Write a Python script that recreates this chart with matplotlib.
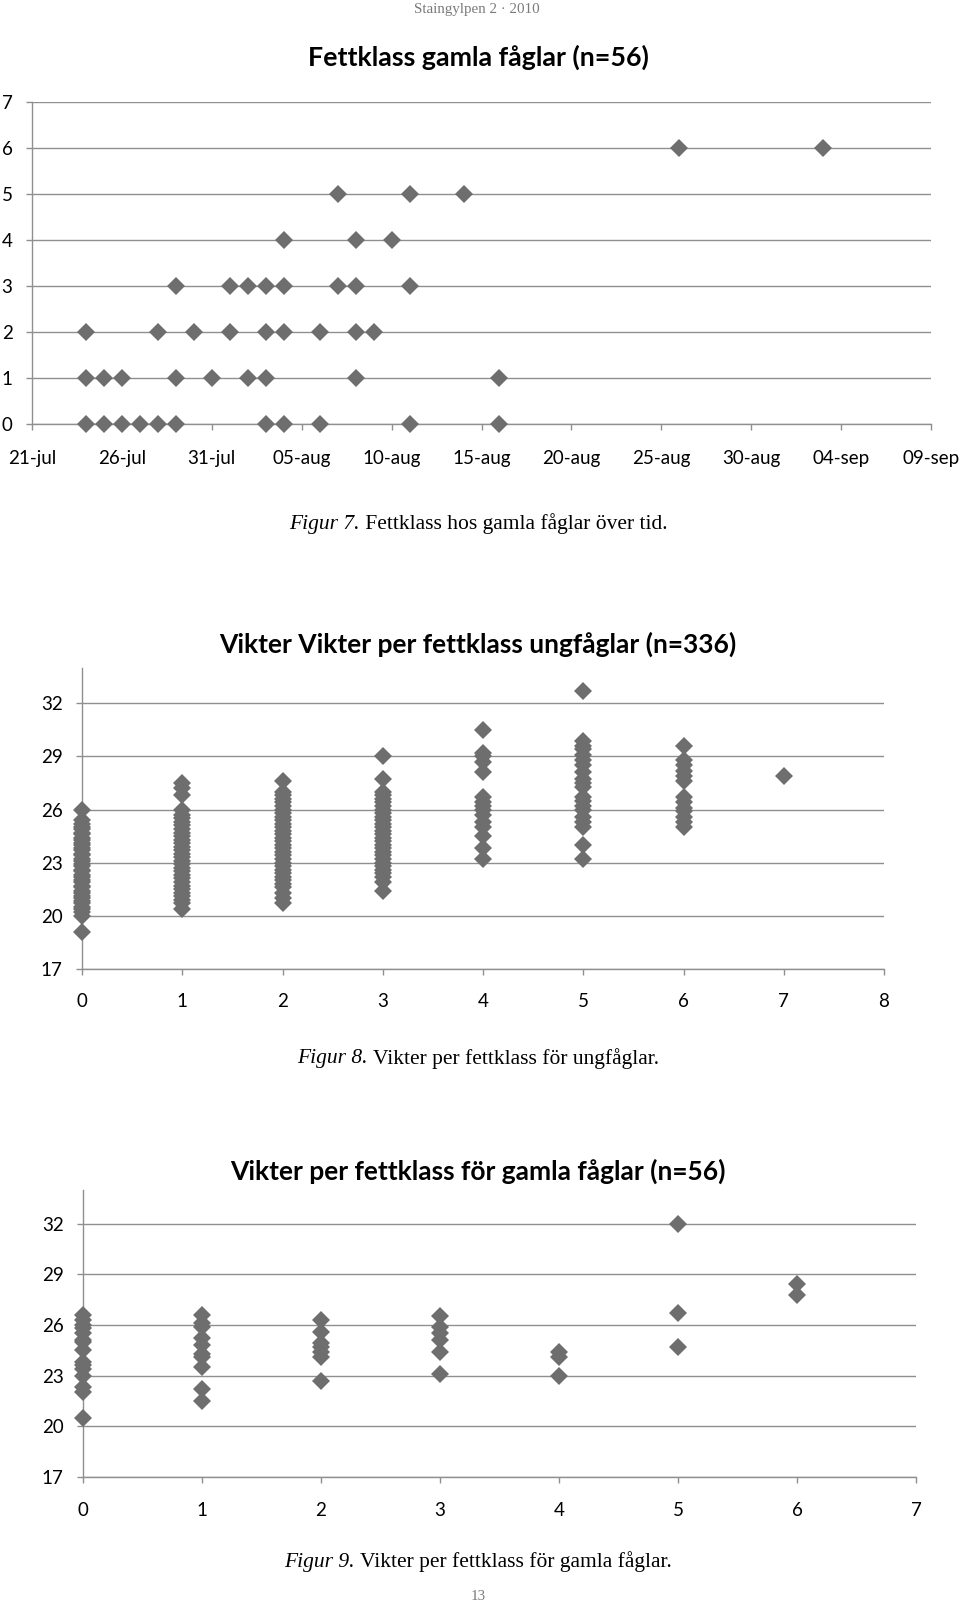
import pandas as pd
import matplotlib
matplotlib.use('Agg')
import matplotlib.pyplot as plt

W, H = 960, 1605
MARK = '#6e6e6e'
GRID = '#8f8f8f'
SANS = 'Lato'
SERIF = 'Liberation Serif'

# Figur 7: datum per fettklass (gamla fåglar)
fat_classes = [0, 1, 2, 3, 4, 5, 6]
old_dates = [
    ['2010-07-24', '2010-07-25', '2010-07-26', '2010-07-27', '2010-07-28', '2010-07-29',
     '2010-08-03', '2010-08-04', '2010-08-06', '2010-08-11', '2010-08-16'],
    ['2010-07-24', '2010-07-25', '2010-07-26', '2010-07-29', '2010-07-31', '2010-08-02',
     '2010-08-03', '2010-08-08', '2010-08-16'],
    ['2010-07-24', '2010-07-28', '2010-07-30', '2010-08-01', '2010-08-03', '2010-08-04',
     '2010-08-06', '2010-08-08', '2010-08-09'],
    ['2010-07-29', '2010-08-01', '2010-08-02', '2010-08-03', '2010-08-04', '2010-08-07',
     '2010-08-08', '2010-08-11'],
    ['2010-08-04', '2010-08-08', '2010-08-10'],
    ['2010-08-07', '2010-08-11', '2010-08-14'],
    ['2010-08-26', '2010-09-03'],
]
date_ticks = ['2010-07-21', '2010-07-26', '2010-07-31', '2010-08-05', '2010-08-10', '2010-08-15',
              '2010-08-20', '2010-08-25', '2010-08-30', '2010-09-04', '2010-09-09']
date_labels = ['21-jul', '26-jul', '31-jul', '05-aug', '10-aug', '15-aug',
               '20-aug', '25-aug', '30-aug', '04-sep', '09-sep']

# Figur 8: vikter per fettklass, ungfåglar
young_w = [
    [26.0, 25.4, 25.2, 25.0, 24.9, 24.7, 24.6, 24.4, 24.3, 24.1, 24.0, 23.8, 23.7, 23.5,
     23.4, 23.2, 23.1, 22.9, 22.8, 22.6, 22.5, 22.3, 22.2, 22.0, 21.9, 21.7, 21.6, 21.4,
     21.3, 21.1, 21.0, 20.8, 20.7, 20.5, 20.4, 20.2, 20.0, 19.1],
    [27.5, 27.2, 26.8, 26.0, 25.7, 25.5, 25.3, 25.1, 24.9, 24.7, 24.5, 24.3, 24.1, 23.9,
     23.7, 23.5, 23.3, 23.1, 22.9, 22.7, 22.5, 22.3, 22.1, 21.9, 21.7, 21.5, 21.3, 21.1,
     20.9, 20.7, 20.4],
    [27.6, 27.0, 26.8, 26.6, 26.4, 26.2, 26.0, 25.8, 25.6, 25.4, 25.2, 25.0, 24.8, 24.6,
     24.4, 24.2, 24.0, 23.8, 23.6, 23.4, 23.2, 23.0, 22.8, 22.6, 22.4, 22.2, 22.0, 21.8,
     21.6, 21.3, 21.0, 20.7],
    [29.0, 27.7, 27.0, 26.8, 26.6, 26.4, 26.2, 26.0, 25.8, 25.6, 25.4, 25.2, 25.0, 24.8,
     24.6, 24.4, 24.2, 24.0, 23.8, 23.6, 23.4, 23.2, 23.0, 22.8, 22.6, 22.4, 22.2, 21.9,
     21.4],
    [30.5, 29.2, 29.0, 28.7, 28.1, 26.7, 26.4, 26.2, 26.0, 25.7, 25.3, 25.0, 24.5, 23.8, 23.2],
    [32.7, 29.9, 29.6, 29.4, 29.1, 28.8, 28.5, 28.1, 27.7, 27.5, 27.3, 26.7, 26.5, 26.2,
     26.0, 25.6, 25.3, 25.0, 24.0, 23.2],
    [29.6, 28.8, 28.5, 28.2, 27.9, 27.6, 26.7, 26.4, 26.1, 25.9, 25.6, 25.3, 25.0],
    [27.9],
]
young_xticks = [0, 1, 2, 3, 4, 5, 6, 7, 8]

# Figur 9: vikter per fettklass, gamla fåglar
old_w = [
    [26.6, 26.3, 26.0, 25.8, 25.5, 25.1, 25.0, 24.5, 23.8, 23.6, 23.4, 23.0, 22.3, 22.0, 20.5],
    [26.6, 26.1, 25.9, 25.2, 24.8, 24.3, 24.1, 23.5, 22.2, 21.5],
    [26.3, 25.6, 24.9, 24.7, 24.4, 24.1, 22.7],
    [26.5, 25.9, 25.5, 25.1, 24.4, 23.1],
    [24.4, 24.1, 23.0],
    [32.0, 26.7, 24.7],
    [28.4, 27.8],
]
old_xticks = [0, 1, 2, 3, 4, 5, 6, 7]
w_ticks = [17, 20, 23, 26, 29, 32]

MS = 8.8


def add_ax(fig, left, top, right, bottom):
    # pixelruta -> figurandel
    return fig.add_axes([left / W, 1 - bottom / H, (right - left) / W, (bottom - top) / H])


def style(ax, xpad):
    for s in ['top', 'right']:
        ax.spines[s].set_visible(False)
    for s in ['left', 'bottom']:
        ax.spines[s].set_color(GRID)
        ax.spines[s].set_linewidth(1.0)
    ax.tick_params(axis='both', direction='out', length=4, width=1.0, color=GRID,
                   labelsize=13.5, labelcolor='black')
    ax.tick_params(axis='y', pad=10)
    ax.tick_params(axis='x', pad=xpad)
    ax.grid(axis='y', color=GRID, linewidth=1.0)
    ax.grid(axis='x', visible=False)
    ax.set_axisbelow(True)
    for lab in ax.get_xticklabels() + ax.get_yticklabels():
        lab.set_family(SANS)


def ftext(x, y, s, **kw):
    return fig.text(x / W, 1 - y / H, s, ha='center', va='center', **kw)


fig = plt.figure(figsize=(W / 100, H / 100), dpi=100)
fig.patch.set_facecolor('white')

# Figur 7
ax1 = add_ax(fig, 32, 102.3, 931, 424.3)
for fc, dts in zip(fat_classes, old_dates):
    ax1.plot(pd.to_datetime(dts), [fc] * len(dts), 'D', color=MARK, markersize=MS,
             markeredgewidth=0, clip_on=False, zorder=3)
ax1.set_xlim(pd.Timestamp(date_ticks[0]), pd.Timestamp(date_ticks[-1]))
ax1.set_ylim(0, 7)
ax1.set_yticks(range(0, 8))
ax1.set_xticks(pd.to_datetime(date_ticks))
ax1.set_xticklabels(date_labels)
style(ax1, 14.5)

# Figur 8
ax2 = add_ax(fig, 82, 668, 884, 968.7)
for x, ws in zip(young_xticks, young_w):
    ax2.plot([x] * len(ws), ws, 'D', color=MARK, markersize=MS, markeredgewidth=0,
             clip_on=False, zorder=3)
ax2.set_xlim(0, 8)
ax2.set_ylim(17, 34)
ax2.set_yticks(w_ticks)
ax2.set_xticks(young_xticks)
style(ax2, 13.5)

# Figur 9
ax3 = add_ax(fig, 83, 1190, 916, 1476.7)
for x, ws in zip(old_xticks, old_w):
    ax3.plot([x] * len(ws), ws, 'D', color=MARK, markersize=MS, markeredgewidth=0,
             clip_on=False, zorder=3)
ax3.set_xlim(0, 7)
ax3.set_ylim(17, 34)
ax3.set_yticks(w_ticks)
ax3.set_xticks(old_xticks)
style(ax3, 14.5)

# texter
ftext(477, 9, 'Staingylpen 2 · 2010', family=SERIF, fontsize=10.8, color='#7a7a7a')
ftext(478, 57, 'Fettklass gamla fåglar (n=56)', family=SANS, fontsize=19.3, fontweight='bold')
ftext(478, 644, 'Vikter Vikter per fettklass ungfåglar (n=336)', family=SANS, fontsize=19,
      fontweight='bold')
ftext(478, 1171, 'Vikter per fettklass för gamla fåglar (n=56)', family=SANS, fontsize=19,
      fontweight='bold')

caps = [(524, 'Figur 7.', ' Fettklass hos gamla fåglar över tid.'),
        (1059, 'Figur 8.', ' Vikter per fettklass för ungfåglar.'),
        (1562, 'Figur 9.', ' Vikter per fettklass för gamla fåglar.')]
r = fig.canvas.get_renderer()
for y, a, b in caps:
    # kursiv del + vanlig del bredvid varandra
    ta = fig.text(0, 1 - y / H, a, family=SERIF, fontsize=15.5, style='italic', va='center')
    tb = fig.text(0, 1 - y / H, b, family=SERIF, fontsize=15.5, va='center')
    wa = ta.get_window_extent(r).width
    wb = tb.get_window_extent(r).width
    x0 = 478 - (wa + wb) / 2
    ta.set_x(x0 / W)
    tb.set_x((x0 + wa) / W)

ftext(478, 1597, '13', family=SERIF, fontsize=10.8, color='#7a7a7a')

fig.savefig('out.png', dpi=100, facecolor='white')
